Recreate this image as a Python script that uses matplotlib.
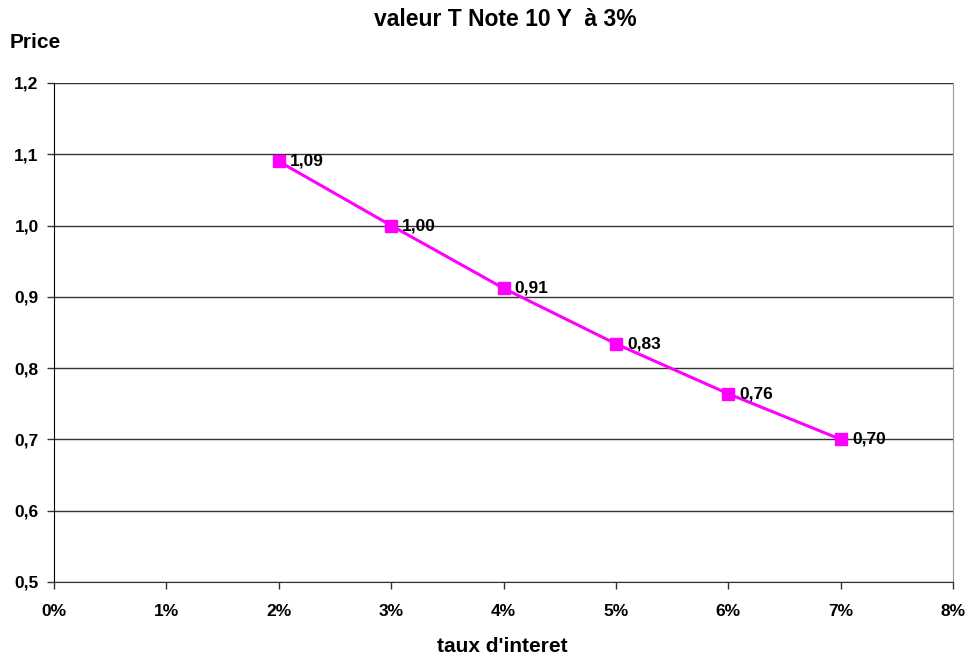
import matplotlib
matplotlib.use('Agg')
import matplotlib.pyplot as plt
from matplotlib.ticker import FuncFormatter

taux = [0.02, 0.03, 0.04, 0.05, 0.06, 0.07]
prix = [1.09, 1.00, 0.912, 0.834, 0.764, 0.70]
etiquettes = ['1,09', '1,00', '0,91', '0,83', '0,76', '0,70']
y_ticks = [0.5, 0.6, 0.7, 0.8, 0.9, 1.0, 1.1, 1.2]
x_ticks = [0.0, 0.01, 0.02, 0.03, 0.04, 0.05, 0.06, 0.07, 0.08]

plt.rcParams['font.family'] = ['Liberation Sans', 'DejaVu Sans']
plt.rcParams['font.weight'] = 'bold'

fig = plt.figure(figsize=(9.69, 6.57), dpi=100)
ax = fig.add_axes([0.0557, 0.1142, 0.928, 0.7595])

ax.plot(taux, prix, color='#ff00ff', lw=2.2, marker='s', ms=8, zorder=3)
for x, y, t in zip(taux, prix, etiquettes):
    ax.annotate(t, (x, y), xytext=(8, 0), textcoords='offset points',
                ha='left', va='center', fontsize=12.5, fontweight='bold', zorder=4)

ax.set_xlim(0, 0.08)
ax.set_ylim(0.5, 1.2)
ax.set_xticks(x_ticks)
ax.set_yticks(y_ticks)
ax.xaxis.set_major_formatter(FuncFormatter(lambda v, p: '%d%%' % round(v * 100)))
ax.yaxis.set_major_formatter(FuncFormatter(lambda v, p: ('%.1f' % v).replace('.', ',')))
ax.tick_params(labelsize=12.5, length=5, width=1, color='#333333')
ax.tick_params(axis='x', pad=11)
ax.tick_params(axis='y', pad=6)
for lab in ax.get_xticklabels() + ax.get_yticklabels():
    lab.set_fontweight('bold')

ax.grid(axis='y', color='#333333', lw=1)
ax.set_axisbelow(True)
ax.spines['left'].set_color('black')
ax.spines['bottom'].set_color('#333333')
ax.spines['right'].set_color('#999999')
ax.spines['top'].set_visible(False)

fig.text(0.521, 0.971, "valeur T Note 10 Y  à 3%", ha='center', va='center',
         fontsize=16.5, fontweight='bold')
fig.text(0.010, 0.936, 'Price', ha='left', va='center', fontsize=15, fontweight='bold')
fig.text(0.518, 0.016, "taux d'interet", ha='center', va='center',
         fontsize=15, fontweight='bold')

fig.savefig('out.png', dpi=100)
